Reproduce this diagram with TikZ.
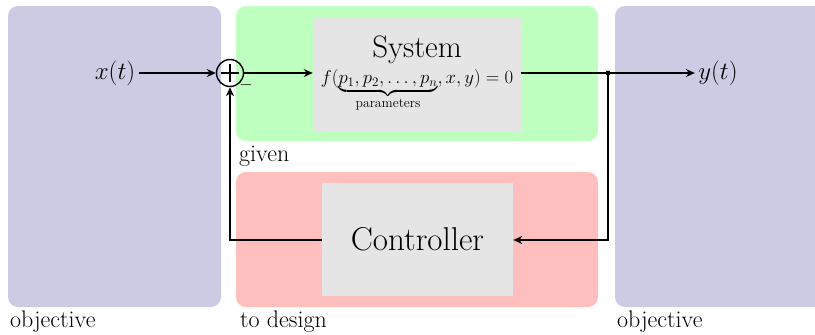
\documentclass[tikz,border=0pt]{standalone}
\usetikzlibrary{arrows.meta}
\usepackage{amsmath}
\usepackage{graphicx}
\definecolor{objblue}{RGB}{203,203,227}
\definecolor{givgreen}{RGB}{191,255,191}
\definecolor{desred}{RGB}{255,191,191}
\definecolor{boxgray}{RGB}{229,229,229}
\begin{document}
\begin{tikzpicture}[x=1pt,y=-1pt,
  panel/.style={rounded corners=10pt},
  block/.style={fill=boxgray,inner sep=0pt},
  lbl/.style={anchor=base west,inner sep=0pt,font=\fontsize{24}{28}\selectfont},
  conn/.style={line width=1.4pt,-{Stealth[length=9pt,width=8pt]}},
  wire/.style={line width=1.4pt}]
\useasboundingbox (0,0) rectangle (815,335);
% panels
\fill[objblue,panel] (8,6) rectangle (221,307);
\fill[objblue,panel] (615,6) rectangle (830,307);
\fill[givgreen,panel] (236,6) rectangle (598,141);
\fill[desred,panel] (236,172) rectangle (598,307);
\clip (0,0) rectangle (815,335);
% labels
\node[lbl] (lobj) at (10,327) {objective};
\node[lbl] (robj) at (617,327) {objective};
\node[lbl] (giv) at (239,161) {given};
\node[lbl] (des) at (240,327) {to design};
% blocks
\node[block,minimum width=208pt,minimum height=114pt] (sys) at (417,74) {};
\node[font=\fontsize{31}{36}\selectfont] (systxt) at (417,50) {System};
\node[anchor=north,inner sep=0pt,font=\fontsize{18}{21}\selectfont] (eq) at (417,69)
  {\scalebox{1.085}{$f(\underbrace{p_1,p_2,\dots,p_n}_{\text{parameters}},x,y)=0$}};
\node[block,minimum width=191pt,minimum height=113pt,font=\fontsize{33}{38}\selectfont] (ctrl) at (417.5,239.5) {Controller};
% signals
\node[font=\fontsize{33}{38}\selectfont] (xin) at (115,73) {$x(t)$};
\node[font=\fontsize{33}{38}\selectfont] (yout) at (718,73) {$y(t)$};
\node[circle,draw,line width=1.4pt,minimum size=27pt,inner sep=0pt] (sum) at (230,73) {};
\draw[line width=1.3pt] ([yshift=-9pt]sum.center) -- ([yshift=9pt]sum.center)
  ([xshift=-9pt]sum.center) -- ([xshift=9pt]sum.center);
\node[font=\fontsize{16}{19}\selectfont] (minus) at (246,85) {$-$};
\coordinate (split) at (608,73);
\coordinate (fb) at (608,240);
\coordinate (fbl) at (230,240);
\draw[conn] (xin.east) -- (sum.west);
\draw[conn] (sum.east) -- (sys.west |- sum.east);
\draw[conn] (sys.east |- split) -- (yout.west);
\fill (split) circle (2.5pt);
\draw[wire,-{Stealth[length=9pt,width=8pt]}] (split) -- (fb) -- (ctrl.east |- fb);
\draw[conn] (ctrl.west |- fbl) -- (fbl) -- (sum.south);
\end{tikzpicture}
\end{document}
